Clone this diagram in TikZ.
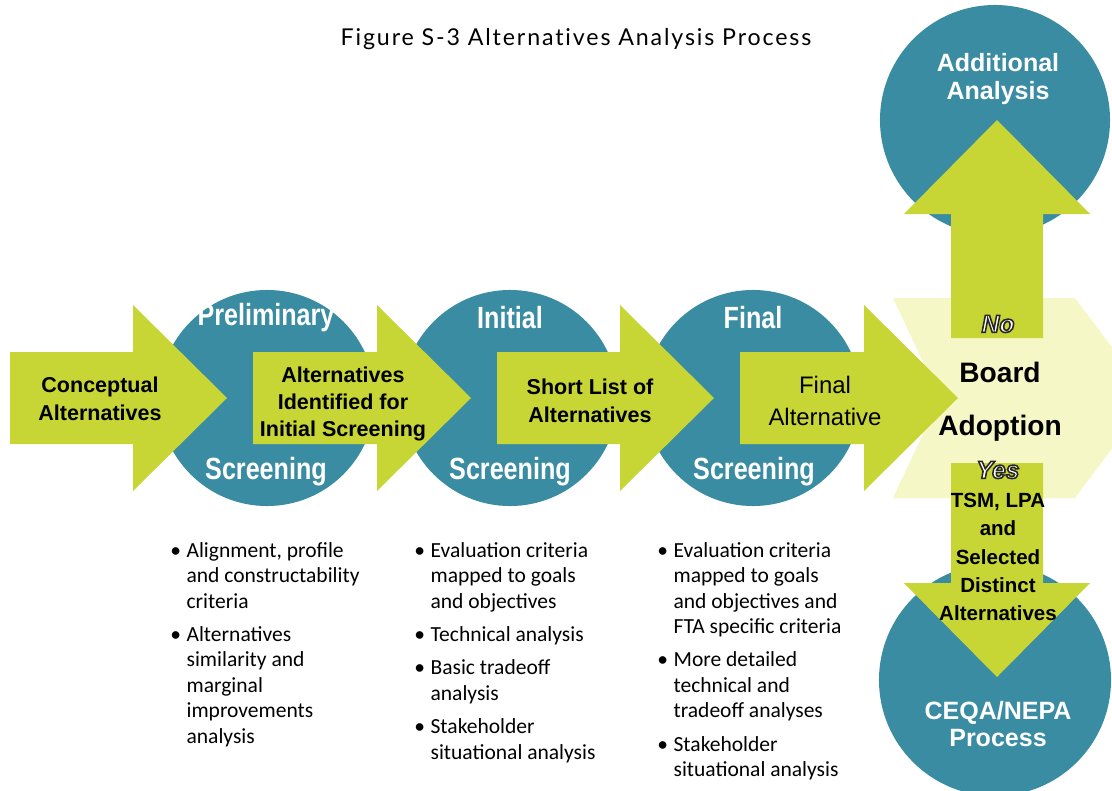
\documentclass[tikz,border=0pt]{standalone}
\usepackage{fontspec}
\setmainfont{Carlito}
\newfontfamily\titlefont{Lato}[LetterSpace=8, Ligatures=NoCommon]
\newfontfamily\labelfont{Liberation Sans}[FakeStretch=0.82]
\newfontfamily\arrowfont{Liberation Sans}
\usepackage{tikz}
\usetikzlibrary{positioning}

\definecolor{stageteal}{RGB}{58,140,162}
\definecolor{leaf}{RGB}{199,214,52}
\definecolor{pale}{RGB}{246,247,198}

% white letters with a dark rim
\newcommand\rimmed[1]{\special{pdf:literal direct 0.15 0.15 0.15 RG 2 Tr 1.1 w}#1\special{pdf:literal direct 0 Tr}}

\begin{document}
\begin{tikzpicture}[
    x=0.025cm, y=-0.025cm,
    stage/.style={circle, fill=stageteal, inner sep=0, minimum size=5.4cm},
    stagetext/.style={text=white, inner sep=0, font=\labelfont\bfseries\fontsize{21.8}{24}\selectfont},
    arrowtext/.style={align=center, inner sep=0, font=\arrowfont\bfseries\fontsize{15.3}{19.5}\selectfont},
    endtext/.style={text=white, align=center, inner sep=0, font=\arrowfont\bfseries\fontsize{17.8}{19.5}\selectfont},
    boardtext/.style={inner sep=0, font=\arrowfont\bfseries\fontsize{20}{24}\selectfont},
    answer/.style={text=white, inner sep=0, font=\arrowfont\bfseries\itshape\fontsize{17.5}{19}\selectfont},
    bullets/.style={anchor=north west, inner sep=0, font=\fontsize{15.3}{18.1}\selectfont},
    blockarrow/.pic={\fill[leaf] (0,-46) -- ({#1-94},-46) -- ({#1-94},-93) -- (#1,0)
        -- ({#1-94},93) -- ({#1-94},46) -- (0,46) -- cycle;}
]
    \useasboundingbox (0,0) rectangle (1112,790);
    \clip (0,0) rectangle (1112,790);
    \fill[white] (0,0) rectangle (1112,790);

    \node[font=\titlefont\fontsize{16.5}{18}\selectfont, anchor=base] (title) at (576,45)
        {Figure S-3 Alternatives Analysis Process};

    % board adoption backdrop
    \fill[pale] (893,298) -- (1075,298) -- (1150,398) -- (1075,498) -- (893,498) -- (940,398) -- cycle;

    % screening stages
    \node[stage] (prelim) at (267,398) {};
    \node[stage] (initial) at (510,398) {};
    \node[stage] (final) at (753,398) {};
    \node[stage, minimum size=5.75cm] (addl) at (995,120) {};
    \node[stage, minimum size=5.8cm] (ceqa) at (995,680) {};

    % block arrows
    \pic at (10,398) {blockarrow=217};
    \pic at (253,398) {blockarrow=218};
    \pic at (497,398) {blockarrow=217};
    \pic at (740,398) {blockarrow=218};
    \pic[rotate=90] at (997,338) {blockarrow=218};
    \pic[rotate=-90] at (997,463) {blockarrow=214};

    \node[stagetext] (prelimtop) at (266,318) {Preliminary};
    \node[stagetext] (prelimbot) at (266,472) {Screening};
    \node[stagetext] (initialtop) at (510,318) {Initial};
    \node[stagetext] (initialbot) at (510,472) {Screening};
    \node[stagetext] (finaltop) at (753,318) {Final};
    \node[stagetext] (finalbot) at (754,472) {Screening};

    \node[arrowtext] (concept) at (100,399) {Conceptual\\Alternatives};
    \node[arrowtext] (identified) at (343,404) {Alternatives\\Identified for\\Initial Screening};
    \node[arrowtext] (shortlist) at (590,401) {Short List of\\Alternatives};
    \node[align=center, inner sep=0, font=\arrowfont\fontsize{17}{22.7}\selectfont] (finalalt) at (825,401)
        {Final\\Alternative};

    \node[answer] (no) at (998,324) {\rimmed{No}};
    \node[boardtext] (board) at (1000,372) {Board};
    \node[boardtext, below=0.8cm of board] (adoption) {Adoption};
    \node[answer] (yes) at (998,470) {\rimmed{Yes}};
    \node[arrowtext, font=\arrowfont\bfseries\fontsize{14.6}{20}\selectfont] (selected) at (998,557)
        {TSM, LPA\\and\\Selected\\Distinct\\Alternatives};

    \node[endtext] (addltext) at (998,79) {Additional\\Analysis};
    \node[endtext] (ceqatext) at (998,724) {CEQA/NEPA\\Process};

    % criteria lists
    \node[bullets] (critprelim) at (170,539) {%
        \begin{tabular}{@{}l@{\hspace{4pt}}l@{}}
        \textbullet & Alignment, profile\\
        & and constructability\\
        & criteria\\[5.7pt]
        \textbullet & Alternatives\\
        & similarity and\\
        & marginal\\
        & improvements\\
        & analysis
        \end{tabular}};
    \node[bullets] (critinitial) at (414,539) {%
        \begin{tabular}{@{}l@{\hspace{4pt}}l@{}}
        \textbullet & Evaluation criteria\\
        & mapped to goals\\
        & and objectives\\[5.7pt]
        \textbullet & Technical analysis\\[5.7pt]
        \textbullet & Basic tradeoff\\
        & analysis\\[5.7pt]
        \textbullet & Stakeholder\\
        & situational analysis
        \end{tabular}};
    \node[bullets] (critfinal) at (657,539) {%
        \begin{tabular}{@{}l@{\hspace{4pt}}l@{}}
        \textbullet & Evaluation criteria\\
        & mapped to goals\\
        & and objectives and\\
        & FTA specific criteria\\[5.7pt]
        \textbullet & More detailed\\
        & technical and\\
        & tradeoff analyses\\[5.7pt]
        \textbullet & Stakeholder\\
        & situational analysis
        \end{tabular}};
\end{tikzpicture}
\end{document}
